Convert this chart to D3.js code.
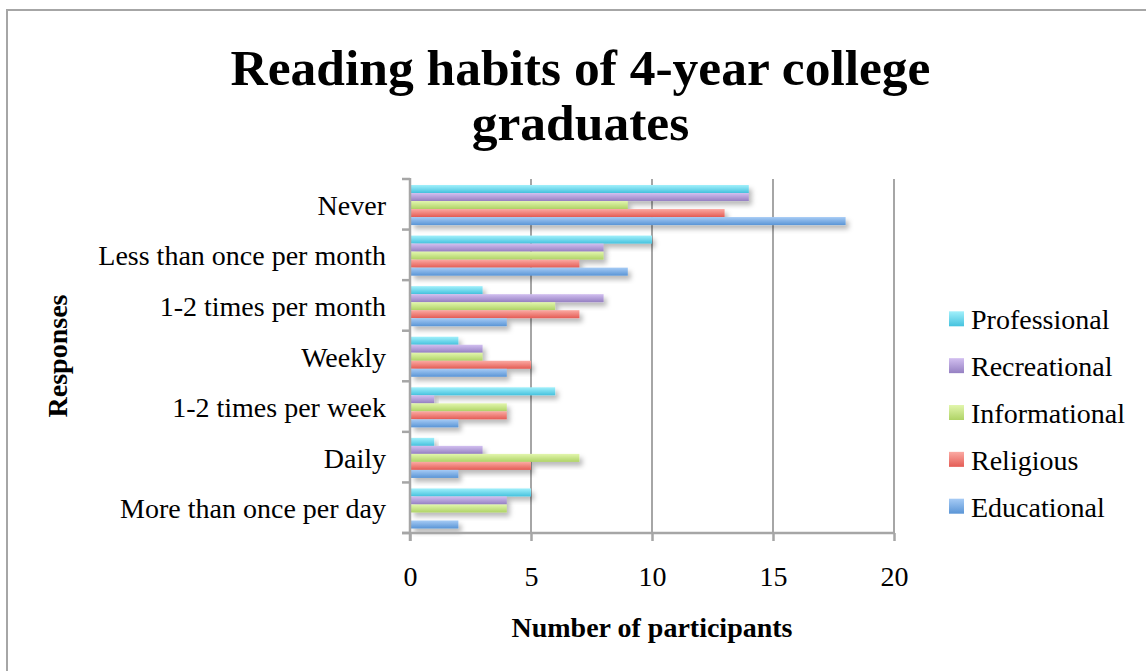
<!DOCTYPE html>
<html><head><meta charset="utf-8">
<script src="https://cdn.jsdelivr.net/npm/d3@7/dist/d3.min.js"></script>
<style>
html,body{margin:0;padding:0;background:#fff;}
svg{display:block;}
text{font-family:"Liberation Serif",serif;fill:#000;}
</style></head>
<body>
<svg id="chart" width="1146" height="671"></svg>
<script>
const categories = ["Never","Less than once per month","1-2 times per month","Weekly","1-2 times per week","Daily","More than once per day"];
const seriesNames = ["Professional","Recreational","Informational","Religious","Educational"];
const professional  = [14,10,3,2,6,1,5];
const recreational  = [14,8,8,3,1,3,4];
const informational = [9,8,6,3,4,7,4];
const religious     = [13,7,7,5,4,5,0];
const educational   = [18,9,4,4,2,2,2];
const xTicks = [0,5,10,15,20];
const seriesValues = [professional,recreational,informational,religious,educational];
const colorsTop = ["#a2f0fb","#d2bff0","#e2f6ad","#fbaaa3","#a6cbf5"];
const colorsBot = ["#45c2de","#9580c2","#afd366","#e45c55","#5a95d6"];

(function(){
const FONT = "Liberation Serif";
const svg = d3.select("#chart");
const defs = svg.append("defs");
seriesNames.forEach((s,i)=>{
  const g = defs.append("linearGradient").attr("id","g"+i).attr("x1",0).attr("y1",0).attr("x2",0).attr("y2",1);
  g.append("stop").attr("offset","0%").attr("stop-color",colorsTop[i]);
  g.append("stop").attr("offset","100%").attr("stop-color",colorsBot[i]);
});
const f = defs.append("filter").attr("id","sh").attr("x","-10%").attr("y","-50%").attr("width","130%").attr("height","250%");
f.append("feDropShadow").attr("dx",3).attr("dy",4).attr("stdDeviation",2.5).attr("flood-color","#000").attr("flood-opacity",0.28);

svg.append("rect").attr("x",7).attr("y",10).attr("width",1150).attr("height",680)
  .attr("fill","none").attr("stroke","#a6a6a6").attr("stroke-width",2);

const pl = 410, pr = 894, pt = 179, pb = 533;
const x = d3.scaleLinear().domain([0,20]).range([pl,pr]);
const y = d3.scaleBand().domain(categories).range([pt,pb]).paddingInner(0).paddingOuter(0);
const y1 = d3.scaleBand().domain(seriesNames).range([6, y.bandwidth()-4.5]).padding(0);

svg.append("g").selectAll("line").data(xTicks.slice(1)).join("line")
  .attr("x1",d=>x(d)).attr("x2",d=>x(d)).attr("y1",pt).attr("y2",pb)
  .attr("stroke","#a6a6a6").attr("stroke-width",2);

const rows = svg.append("g").selectAll("g").data(categories).join("g")
  .attr("transform",c=>`translate(0,${y(c)})`);
rows.each(function(c,ci){
  d3.select(this).selectAll("rect").data(seriesNames).join("rect")
    .attr("x",pl+1)
    .attr("y",s=>y1(s))
    .attr("height",y1.bandwidth())
    .attr("width",(s,si)=>Math.max(0,x(seriesValues[si][ci])-pl-1))
    .attr("fill",(s,si)=>`url(#g${si})`)
    .attr("filter","url(#sh)");
});

const yAxis = svg.append("g").attr("transform",`translate(${pl},0)`)
  .call(d3.axisLeft(y).tickSize(8).tickSizeOuter(0).tickPadding(16));
yAxis.select(".domain").remove();
yAxis.selectAll(".tick line").remove();
yAxis.selectAll(".tick text").attr("font-size",28).attr("font-family",FONT).attr("fill","#000").attr("dy","0.38em");
const yTickPos = d3.range(categories.length+1).map(i=>pt+i*y.step());
svg.append("g").selectAll("line").data(yTickPos).join("line")
  .attr("x1",pl-8).attr("x2",pl).attr("y1",d=>d).attr("y2",d=>d)
  .attr("stroke","#a6a6a6").attr("stroke-width",2.5);
svg.append("line").attr("x1",pl).attr("x2",pl).attr("y1",pt-1).attr("y2",pb+8)
  .attr("stroke","#a6a6a6").attr("stroke-width",2.5);

const xAxis = svg.append("g").attr("transform",`translate(0,${pb})`)
  .call(d3.axisBottom(x).tickValues(xTicks).tickSize(8).tickPadding(25).tickSizeOuter(0));
xAxis.select(".domain").remove();
xAxis.selectAll(".tick line").attr("stroke","#a6a6a6").attr("stroke-width",2.5);
xAxis.selectAll(".tick text").attr("font-size",28).attr("font-family",FONT).attr("fill","#000");
svg.append("line").attr("x1",pl-8).attr("x2",pr).attr("y1",pb).attr("y2",pb)
  .attr("stroke","#a6a6a6").attr("stroke-width",2.5);

const title = svg.append("text").attr("text-anchor","middle").attr("font-weight","bold").attr("font-size",51.5);
title.append("tspan").attr("x",580.5).attr("y",85).text("Reading habits of 4-year college");
title.append("tspan").attr("x",580.5).attr("y",140).text("graduates");

svg.append("text").attr("text-anchor","middle").attr("font-weight","bold").attr("font-size",28)
  .attr("transform","translate(67,356) rotate(-90)").text("Responses");
svg.append("text").attr("text-anchor","middle").attr("font-weight","bold").attr("font-size",28)
  .attr("x",652).attr("y",637).text("Number of participants");

const leg = svg.append("g").selectAll("g").data(seriesNames).join("g")
  .attr("transform",(d,i)=>`translate(949,${329.3+i*46.85})`);
leg.append("rect").attr("x",0).attr("y",-18).attr("width",15).attr("height",15).attr("fill",(d,i)=>`url(#g${i})`);
leg.append("text").attr("x",22).attr("y",0).attr("font-size",28).text(d=>d);
})();
</script>
</body></html>
